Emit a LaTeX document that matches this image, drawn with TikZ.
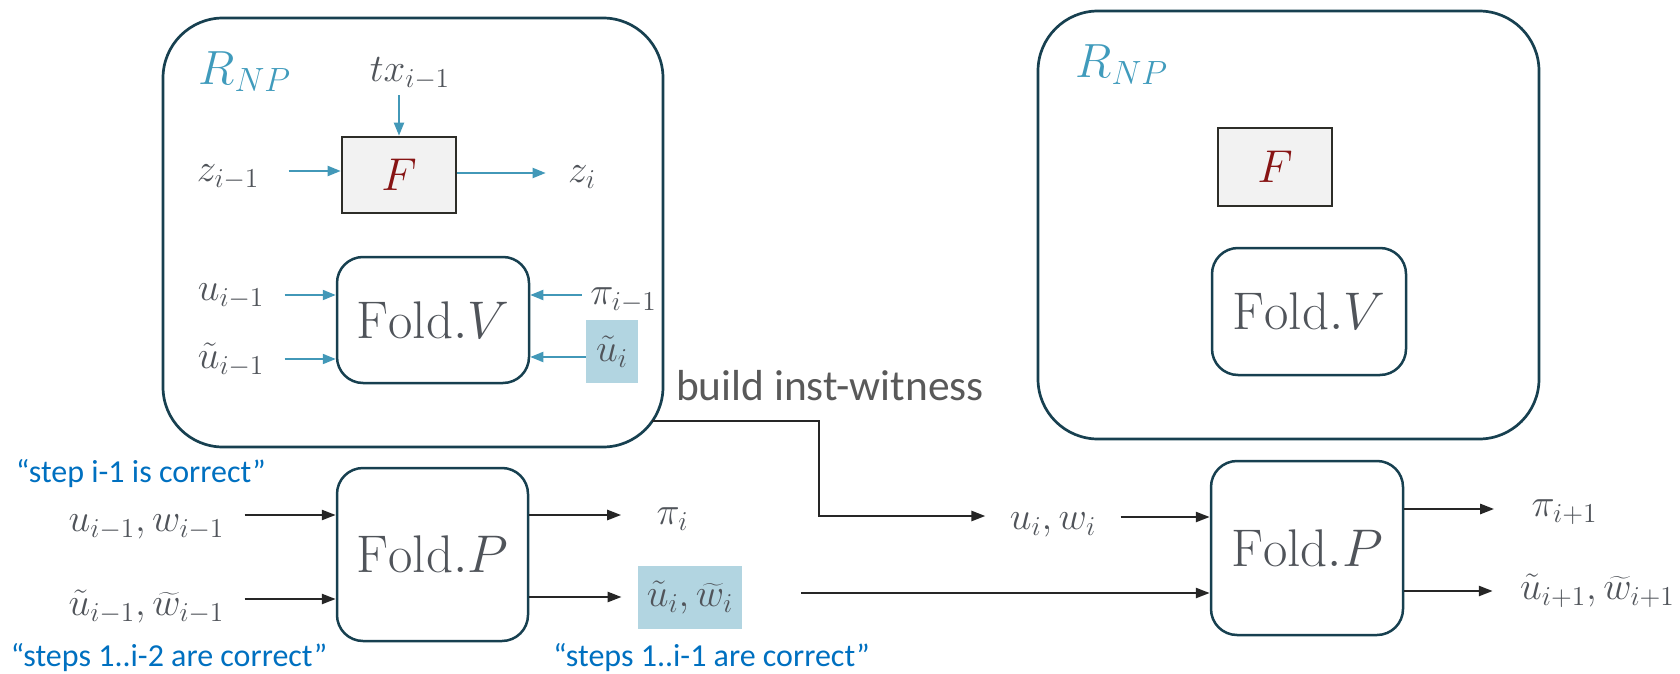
\RequirePackage{fix-cm}
\documentclass[tikz,border=0pt]{standalone}
\usepackage{fontspec}
\newfontfamily\notefont{Carlito}
\usetikzlibrary{arrows.meta,calc}

\definecolor{framec}{RGB}{23,64,80}
\definecolor{cyanc}{RGB}{66,152,184}
\definecolor{rnpc}{RGB}{64,155,188}
\definecolor{fred}{RGB}{135,20,20}
\definecolor{fdraw}{RGB}{45,45,40}
\definecolor{ffill}{RGB}{242,242,242}
\definecolor{hilite}{RGB}{178,213,225}
\definecolor{inkc}{RGB}{80,84,90}
\definecolor{notec}{RGB}{0,112,192}
\definecolor{darkc}{RGB}{38,38,38}
\definecolor{graytext}{RGB}{89,89,89}

\tikzset{
  outerbox/.style={draw=framec, line width=1.35pt, rounded corners=30pt, inner sep=0pt},
  foldbox/.style={draw=framec, line width=1.25pt, rounded corners=13pt, inner sep=0pt,
    text=inkc, font=\fontsize{26.5}{30}\selectfont},
  fnbox/.style={draw=fdraw, fill=ffill, line width=1.3pt, inner sep=0pt,
    text=fred, font=\fontsize{23}{26}\selectfont},
  lab/.style={text=inkc, font=\fontsize{19.5}{22}\selectfont, inner ysep=1pt},
  hl/.style={fill=hilite, inner sep=0pt, text=inkc, font=\fontsize{19.5}{22}\selectfont},
  rnp/.style={text=rnpc, font=\fontsize{24}{28}\selectfont, inner sep=0pt},
  claim/.style={text=notec, font=\notefont\fontsize{16}{19}\selectfont, inner sep=0pt},
  steplabel/.style={text=graytext, font=\notefont\fontsize{21.7}{25}\selectfont, inner sep=0pt},
  cyanarr/.style={draw=cyanc, line width=1pt, -{Triangle[length=6.5pt,width=5pt]}},
  blackarr/.style={draw=darkc, line width=1.25pt, -{Triangle[length=7pt,width=5pt]}},
}

\begin{document}
\begin{tikzpicture}[x=0.5pt,y=-0.5pt]
\useasboundingbox (0,0) rectangle (1680,674);

% R_NP circuits
\node[outerbox, minimum width=250pt, minimum height=214.5pt] (LB) at (413,232.5) {};
\node[outerbox, minimum width=250.5pt, minimum height=214pt] (RB) at (1288.5,225) {};
\node[rnp] (rnpL) at (245,72) {$R_{NP}$};
\node[rnp] (rnpR) at (1122,65) {$R_{NP}$};

% step function and folding verifier inside each circuit
\node[fnbox, minimum width=57pt, minimum height=38pt] (FL) at (399,175) {$F$};
\node[fnbox, minimum width=57pt, minimum height=39pt] (FR) at (1275,167) {$F$};
\node[foldbox, minimum width=96pt, minimum height=63pt] (FVL) at (433,320) {$\mathrm{Fold.}V$};
\node[foldbox, minimum width=97pt, minimum height=63.5pt] (FVR) at (1309,311.5) {$\mathrm{Fold.}V$};

% folding provers
\node[foldbox, minimum width=95.5pt, minimum height=86.5pt] (FPL) at (432.5,554.5) {$\mathrm{Fold.}P$};
\node[foldbox, minimum width=96pt, minimum height=87pt] (FPR) at (1307,548) {$\mathrm{Fold.}P$};

% inputs and outputs of the left circuit
\node[lab, inner ysep=2.5pt] (tx) at (410,74) {$tx_{i-1}$};
\node[lab, inner xsep=14.5pt] (zim1) at (228,177) {$z_{i-1}$};
\node[lab, inner xsep=11pt] (zi) at (582,177) {$z_i$};
\node[lab, inner xsep=10pt] (um1) at (231,296) {$u_{i-1}$};
\node[lab, inner xsep=10pt] (tum1) at (231,360) {$\tilde u_{i-1}$};
\node[lab, inner xsep=4pt] (pim1) at (623.5,300) {$\pi_{i-1}$};
\node[hl, minimum width=26pt, minimum height=31.5pt] (tui) at (612,351.5) {$\tilde u_i$};

\draw[cyanarr] (tx.south -| FL.north) -- (FL.north);
\draw[cyanarr] (zim1.east |- 0,171) -- (FL.west |- 0,171);
\draw[cyanarr] (FL.east |- 0,173) -- (zi.west |- 0,173);
\draw[cyanarr] (um1.east |- 0,295) -- (FVL.west |- 0,295);
\draw[cyanarr] (tum1.east |- 0,359) -- (FVL.west |- 0,359);
\draw[cyanarr] (pim1.west |- 0,295) -- (FVL.east |- 0,295);
\draw[cyanarr] (tui.west |- 0,357) -- (FVL.east |- 0,357);

% prover inputs, outputs and claims
\node[claim] (c1) at (141,474) {“step i-1 is correct”};
\node[claim] (c2) at (169,658) {“steps 1..i-2 are correct”};
\node[claim] (c3) at (711.5,658) {“steps 1..i-1 are correct”};
\node[lab, inner xsep=10pt] (uw1) at (146.5,527) {$u_{i-1},w_{i-1}$};
\node[lab, inner xsep=10pt] (tuw1) at (146.5,607) {$\tilde u_{i-1},\widetilde w_{i-1}$};
\node[lab, inner xsep=17.5pt] (pii) at (672.5,519) {$\pi_i$};
\node[hl, minimum width=52pt, minimum height=31.5pt] (tuwi) at (690,597.5) {$\tilde u_i,\widetilde w_i$};
\node[lab, inner xsep=12pt] (uwi) at (1053,525) {$u_i,w_i$};
\node[lab, inner xsep=18.5pt] (pip1) at (1564.5,512) {$\pi_{i+1}$};
\node[lab, inner xsep=13.5pt] (tuwp1) at (1597.5,591) {$\tilde u_{i+1},\widetilde w_{i+1}$};
\node[steplabel] (bil) at (830,386) {build inst-witness};

\draw[blackarr] (uw1.east |- 0,515) -- (FPL.west |- 0,515);
\draw[blackarr] (tuw1.east |- 0,599) -- (FPL.west |- 0,599);
\draw[blackarr] (FPL.east |- 0,515) -- (pii.west |- 0,515);
\draw[blackarr, shorten >=8pt] (FPL.east |- 0,597) -- (tuwi.west |- 0,597);

\coordinate (bwout) at (652,421);
\draw[blackarr] (bwout) -- (819,421) -- (819,516) -- (uwi.west |- 0,516);
\draw[blackarr] (uwi.east |- 0,517) -- (FPR.west |- 0,517);
\coordinate (tail) at (801,593);
\draw[blackarr] (tail) -- (FPR.west |- tail);
\draw[blackarr] (FPR.east |- 0,509) -- (pip1.west |- 0,509);
\draw[blackarr] (FPR.east |- 0,591) -- (tuwp1.west |- 0,591);
\end{tikzpicture}
\end{document}
